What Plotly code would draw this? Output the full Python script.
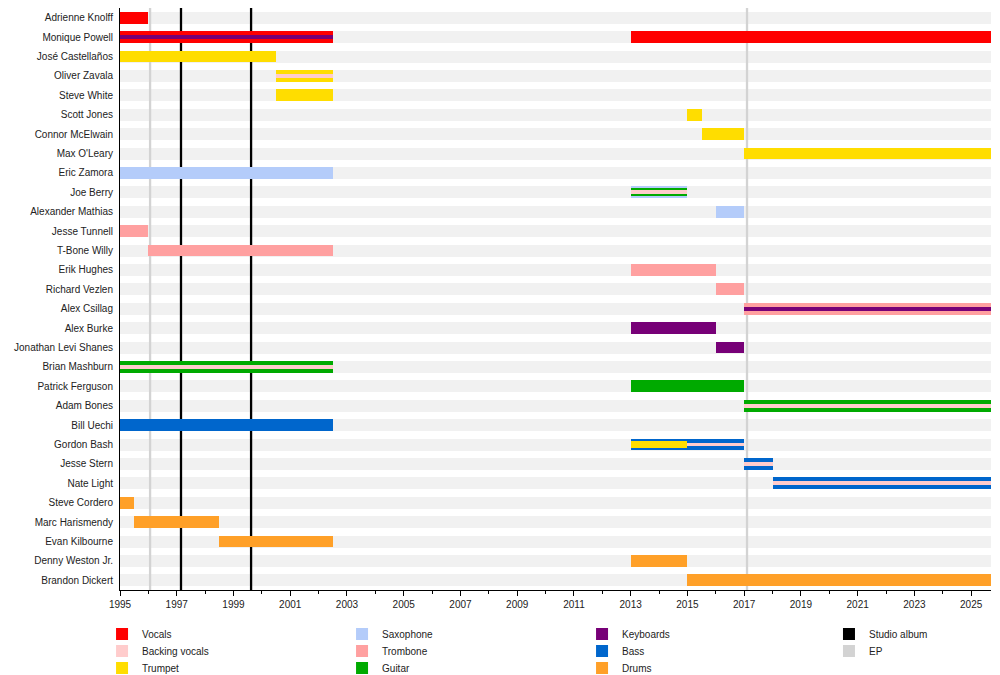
import plotly.graph_objs as go

END = 2025.7

members = [
    "Adrienne Knolff", "Monique Powell", "José Castellaños", "Oliver Zavala",
    "Steve White", "Scott Jones", "Connor McElwain", "Max O'Leary",
    "Eric Zamora", "Joe Berry", "Alexander Mathias", "Jesse Tunnell",
    "T-Bone Willy", "Erik Hughes", "Richard Vezlen", "Alex Csillag",
    "Alex Burke", "Jonathan Levi Shanes", "Brian Mashburn", "Patrick Ferguson",
    "Adam Bones", "Bill Uechi", "Gordon Bash", "Jesse Stern", "Nate Light",
    "Steve Cordero", "Marc Harismendy", "Evan Kilbourne", "Denny Weston Jr.",
    "Brandon Dickert",
]

# main bars
bar_member = [
    "Adrienne Knolff", "Monique Powell", "Monique Powell", "José Castellaños",
    "Oliver Zavala", "Steve White", "Scott Jones", "Connor McElwain",
    "Max O'Leary", "Eric Zamora", "Joe Berry", "Alexander Mathias",
    "Jesse Tunnell", "T-Bone Willy", "Erik Hughes", "Richard Vezlen",
    "Alex Csillag", "Alex Burke", "Jonathan Levi Shanes", "Brian Mashburn",
    "Patrick Ferguson", "Adam Bones", "Bill Uechi", "Gordon Bash",
    "Jesse Stern", "Nate Light", "Steve Cordero", "Marc Harismendy",
    "Evan Kilbourne", "Denny Weston Jr.", "Brandon Dickert",
]
bar_role = [
    "Vocals", "Vocals", "Vocals", "Trumpet",
    "Trumpet", "Trumpet", "Trumpet", "Trumpet",
    "Trumpet", "Saxophone", "Saxophone", "Saxophone",
    "Trombone", "Trombone", "Trombone", "Trombone",
    "Trombone", "Keyboards", "Keyboards", "Guitar",
    "Guitar", "Guitar", "Bass", "Bass",
    "Bass", "Bass", "Drums", "Drums",
    "Drums", "Drums", "Drums",
]
bar_start = [
    1995, 1995, 2013, 1995,
    2000.5, 2000.5, 2015, 2015.5,
    2017, 1995, 2013, 2016,
    1995, 1996, 2013, 2016,
    2017, 2013, 2016, 1995,
    2013, 2017, 1995, 2013,
    2017, 2018, 1995, 1995.5,
    1998.5, 2013, 2015,
]
bar_end = [
    1996, 2002.5, END, 2000.5,
    2002.5, 2002.5, 2015.5, 2017,
    END, 2002.5, 2015, 2017,
    1996, 2002.5, 2016, 2017,
    END, 2016, 2017, 2002.5,
    2017, END, 2002.5, 2017,
    2018, END, 1995.5, 1998.5,
    2002.5, 2015, END,
]

# secondary roles drawn as stripes inside the main bars
stripe_member = [
    "Joe Berry", "Gordon Bash",
    "Monique Powell", "Oliver Zavala", "Joe Berry", "Alex Csillag",
    "Brian Mashburn", "Adam Bones", "Gordon Bash", "Jesse Stern", "Nate Light",
]
stripe_role = [
    "Guitar", "Trumpet",
    "Keyboards", "Backing vocals", "Backing vocals", "Keyboards",
    "Backing vocals", "Backing vocals", "Backing vocals", "Backing vocals", "Backing vocals",
]
stripe_start = [
    2013, 2013,
    1995, 2000.5, 2013, 2017,
    1995, 2017, 2015, 2017, 2018,
]
stripe_end = [
    2015, 2015,
    2002.5, 2002.5, 2015, END,
    2002.5, END, 2017, 2018, END,
]
stripe_kind = [
    "mid", "mid",
    "thin", "thin", "thin", "thin",
    "thin", "thin", "thin", "thin", "thin",
]

album_names = ["Introducing Save Ferris", "It Means Everything", "Modified", "Checkered Past"]
album_type = ["EP", "Studio album", "Studio album", "EP"]
album_date = [1996.06, 1997.15, 1999.62, 2017.1]

colors = {
    "Vocals": "#FF0000",
    "Backing vocals": "#FFCCCC",
    "Trumpet": "#FFDD00",
    "Saxophone": "#B4CCFA",
    "Trombone": "#FFA0A0",
    "Guitar": "#00AA00",
    "Keyboards": "#770077",
    "Bass": "#0066CC",
    "Drums": "#FFA028",
    "Studio album": "#000000",
    "EP": "#D3D3D3",
}
widths = {"main": 0.6, "mid": 0.4, "thin": 0.2}

# legend groups: three rows of instruments plus the release types
legend_groups = [
    ["Vocals", "Saxophone", "Keyboards"],
    ["Backing vocals", "Trombone", "Bass"],
    ["Trumpet", "Guitar", "Drums"],
    ["Studio album"],
    ["EP"],
]
legend_pos = [
    (0.0948, 0.0615), (0.0948, 0.0360), (0.0948, 0.0105),
    (0.8276, 0.0615), (0.8276, 0.0360),
]

n = len(members)
fig = go.Figure()

# album release lines (base subplot, above the row stripes, below the bars)
for date, kind in zip(album_date, album_type):
    fig.add_trace(go.Scatter(
        x=[date, date], y=[-0.5, n - 0.5], mode="lines",
        line=dict(color=colors[kind], width=2.3),
        showlegend=False, hoverinfo="skip", name=kind,
    ))

# main bars, one trace per role
for role in colors:
    idx = [i for i, r in enumerate(bar_role) if r == role]
    if not idx:
        continue
    fig.add_trace(go.Bar(
        orientation="h", yaxis="y2",
        y=[bar_member[i] for i in idx],
        base=[bar_start[i] for i in idx],
        x=[bar_end[i] - bar_start[i] for i in idx],
        width=widths["main"],
        marker=dict(color=colors[role], line=dict(width=0)),
        showlegend=False,
        name=role,
    ))

# stripes
for kind in ["mid", "thin"]:
    for role in colors:
        idx = [i for i, r in enumerate(stripe_role) if r == role and stripe_kind[i] == kind]
        if not idx:
            continue
        fig.add_trace(go.Bar(
            orientation="h", yaxis="y2",
            y=[stripe_member[i] for i in idx],
            base=[stripe_start[i] for i in idx],
            x=[stripe_end[i] - stripe_start[i] for i in idx],
            width=widths[kind],
            marker=dict(color=colors[role], line=dict(width=0)),
            showlegend=False,
            name=role,
        ))

# legend entries
for g, group in enumerate(legend_groups):
    lg = "legend" if g == 0 else f"legend{g + 1}"
    for role in group:
        fig.add_trace(go.Bar(
            orientation="h", x=[None], y=[None], yaxis="y2", name=role,
            marker=dict(color=colors[role], line=dict(width=0)),
            legend=lg, showlegend=True,
        ))
    fig.update_layout({lg: dict(
        x=legend_pos[g][0], y=legend_pos[g][1], xref="container", yref="container",
        xanchor="left", yanchor="middle", orientation="h",
        entrywidth=195, entrywidthmode="pixels",
        bgcolor="rgba(0,0,0,0)", font=dict(size=10, color="#222"),
        itemclick=False, itemdoubleclick=False,
    )})

fig.update_layout(
    yaxis=dict(
        range=[n - 0.5, -0.5],
        tickmode="array", tickvals=list(range(n)), showticklabels=False,
        showgrid=True, gridwidth=12, gridcolor="#F1F1F1",
        showline=True, linecolor="black", linewidth=1,
        ticks="", zeroline=False,
    ),
    yaxis2=dict(
        overlaying="y", side="left", anchor="x",
        type="category", categoryorder="array", categoryarray=members,
        range=[n - 0.5, -0.5],
        showgrid=False, showline=False, zeroline=False,
        ticks="", ticklabelstandoff=6, tickfont=dict(size=10, color="#222"),
    ),
)
fig.update_xaxes(
    range=[1995, END],
    tick0=1995, dtick=2,
    ticks="outside", ticklen=5, tickcolor="black",
    minor=dict(dtick=1, ticks="outside", ticklen=3, tickcolor="black", showgrid=False),
    showgrid=False, zeroline=False,
    showline=True, linecolor="black", linewidth=1,
    tickfont=dict(size=10, color="#222"),
)

fig.update_layout(
    width=992, height=667,
    barmode="overlay",
    bargap=0,
    font=dict(family="Liberation Sans, Arial, sans-serif", size=10, color="#222"),
    plot_bgcolor="white", paper_bgcolor="white",
    margin=dict(l=112, r=9, t=0, b=85, autoexpand=False),
)

fig.write_html("out.html")
